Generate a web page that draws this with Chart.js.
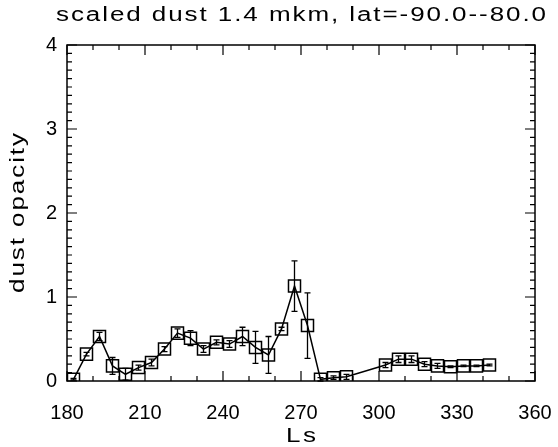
<!DOCTYPE html>
<html>
<head>
<meta charset="utf-8">
<script src="https://cdn.jsdelivr.net/npm/chart.js@4/dist/chart.umd.min.js"></script>
<style>
  body { margin: 0; background: #fff; }
  #wrap { width: 558px; height: 447px; }
</style>
</head>
<body>
<div id="wrap"><canvas id="grafico"></canvas></div>
<script>
// solar longitude of each point
var ls = [182.5, 187.5, 192.5, 197.5, 202.5, 207.5, 212.5, 217.5, 222.5, 227.5,
  232.5, 237.5, 242.5, 247.5, 252.5, 257.5, 262.5, 267.5, 272.5, 277.5,
  282.5, 287.5, 302.5, 307.5, 312.5, 317.5, 322.5, 327.5, 332.5, 337.5, 342.5];
// dust opacity
var opacidad = [0.02, 0.32, 0.53, 0.18, 0.08, 0.16, 0.22, 0.38, 0.57, 0.51,
  0.38, 0.46, 0.44, 0.53, 0.40, 0.31, 0.62, 1.13, 0.66, 0.02,
  0.04, 0.05, 0.19, 0.26, 0.26, 0.20, 0.18, 0.17, 0.18, 0.18, 0.19];
// error (half length of the bar)
var errores = [0.01, 0.02, 0.05, 0.10, 0.07, 0.03, 0.04, 0.03, 0.05, 0.09,
  0.04, 0.03, 0.04, 0.11, 0.19, 0.22, 0.02, 0.30, 0.39, 0.02,
  0.02, 0.03, 0.03, 0.04, 0.04, 0.03, 0.03, 0.01, 0.01, 0.01, 0.01];
var xTicks = [180, 210, 240, 270, 300, 330, 360];
var yTicks = [0, 1, 2, 3, 4];

var titulo = "scaled dust 1.4 mkm, lat=-90.0--80.0";
var tituloX = "Ls";
var tituloY = "dust opacity";

var fuente = "'Liberation Sans', Arial, sans-serif";

var puntos = ls.map(function (v, i) {
  return { x: v, y: opacidad[i] };
});

// wide text like the IDL font: stretch the glyphs a bit and spread them
function textoAncho(c, txt, cx, cy, ancho, rot) {
  c.save();
  c.font = "20px " + fuente;
  c.fillStyle = "#000";
  c.textBaseline = "middle";
  c.textAlign = "left";
  c.letterSpacing = "0px";
  var w = c.measureText(txt).width;
  var estira = Math.min(1.3, ancho / w);
  var esp = (ancho / estira - w) / (txt.length - 1);
  c.letterSpacing = esp + "px";
  c.translate(cx, cy);
  if (rot) c.rotate(-Math.PI / 2);
  c.scale(estira, 1);
  c.fillText(txt, -ancho / 2 / estira, 0);
  c.restore();
}

// error bars
var barrasError = {
  id: "barrasError",
  afterDatasetsDraw: function (chart) {
    var c = chart.ctx;
    var sx = chart.scales.x, sy = chart.scales.y;
    c.save();
    c.strokeStyle = "#000";
    c.lineWidth = 1.3;
    ls.forEach(function (v, i) {
      var px = sx.getPixelForValue(v);
      var y1 = sy.getPixelForValue(opacidad[i] - errores[i]);
      var y2 = sy.getPixelForValue(opacidad[i] + errores[i]);
      c.beginPath();
      c.moveTo(px, y1); c.lineTo(px, y2);
      c.moveTo(px - 3, y1); c.lineTo(px + 3, y1);
      c.moveTo(px - 3, y2); c.lineTo(px + 3, y2);
      c.stroke();
    });
    c.restore();
  }
};

// box with inward ticks on all four sides, plus titles
var marco = {
  id: "marco",
  afterDraw: function (chart) {
    var c = chart.ctx, a = chart.chartArea;
    var sx = chart.scales.x, sy = chart.scales.y;
    c.save();
    c.strokeStyle = "#000";
    c.lineWidth = 1.5;
    c.strokeRect(a.left, a.top, a.right - a.left, a.bottom - a.top);
    c.lineWidth = 1.2;
    c.beginPath();
    for (var v = 180; v <= 360; v += 10) {
      var px = sx.getPixelForValue(v);
      var l = (v % 30 === 0) ? 10 : 5;
      c.moveTo(px, a.bottom); c.lineTo(px, a.bottom - l);
      c.moveTo(px, a.top); c.lineTo(px, a.top + l);
    }
    for (var k = 0; k <= 40; k++) {
      var py = sy.getPixelForValue(k / 10);
      var m = (k % 10 === 0) ? 10 : 5;
      c.moveTo(a.left, py); c.lineTo(a.left + m, py);
      c.moveTo(a.right, py); c.lineTo(a.right - m, py);
    }
    c.stroke();
    c.restore();

    var mx = (a.left + a.right) / 2, my = (a.top + a.bottom) / 2;
    textoAncho(c, titulo, mx, 15, 490, false);
    textoAncho(c, tituloX, mx, 436, 30, false);
    textoAncho(c, tituloY, 18, my, 160, true);
  }
};

var lienzo = document.getElementById("grafico");
lienzo.getContext("2d").letterSpacing = "1px";

var grafico = new Chart(lienzo, {
  type: "line",
  data: {
    datasets: [
      {
        data: puntos,
        borderColor: "#000",
        borderWidth: 1.5,
        pointStyle: "rect",
        pointRadius: 8.5,
        pointBorderWidth: 1.5,
        pointBorderColor: "#000",
        pointBackgroundColor: "rgba(0,0,0,0)",
        tension: 0,
      },
    ],
  },
  options: {
    responsive: true,
    maintainAspectRatio: false,
    animation: false,
    layout: { padding: { left: 0, right: 23, top: 45, bottom: 0 } },
    plugins: {
      legend: { display: false },
      tooltip: { enabled: false },
      title: { display: false },
    },
    scales: {
      x: {
        type: "linear",
        min: 180,
        max: 360,
        afterBuildTicks: function (s) {
          s.ticks = xTicks.map(function (v) { return { value: v }; });
        },
        afterFit: function (s) {
          s.height = 66;
          s.paddingLeft = 0;
          s.paddingRight = 0;
        },
        grid: { display: false, drawTicks: false },
        border: { display: false },
        ticks: {
          color: "#000",
          padding: 20,
          maxRotation: 0,
          font: { family: fuente, size: 20 },
        },
      },
      y: {
        min: 0,
        max: 4,
        afterBuildTicks: function (s) {
          s.ticks = yTicks.map(function (v) { return { value: v }; });
        },
        afterFit: function (s) {
          s.width = 67;
          s.paddingTop = 0;
          s.paddingBottom = 0;
        },
        grid: { display: false, drawTicks: false },
        border: { display: false },
        ticks: {
          color: "#000",
          padding: 10,
          font: { family: fuente, size: 20 },
        },
      },
    },
  },
  plugins: [barrasError, marco],
});
</script>
</body>
</html>
